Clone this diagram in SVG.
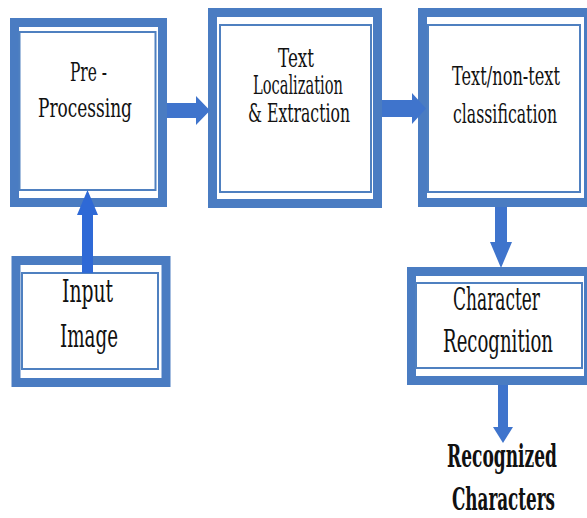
<svg xmlns="http://www.w3.org/2000/svg" width="587" height="518" viewBox="0 0 587 518">
<style>
.outer{fill:#ffffff;stroke:#4a7cc2;stroke-width:9}
.inner{fill:#ffffff;stroke:#4f80c0;stroke-width:2}
.arrow{fill:#3f74cc;stroke:none}
text{font-family:'DejaVu Serif','Liberation Serif',serif;fill:#111111;text-anchor:middle}
.s{font-size:26px}
.b{font-size:32px}
.bold{font-weight:bold}
</style>
<rect width="587" height="518" fill="#ffffff"/>
<g id="preprocessing">
<rect class="outer" x="14.5" y="22.5" width="148" height="180"/>
<rect class="inner" x="19.5" y="32" width="136" height="158"/>
<g transform="translate(88.5,0) scale(0.65,1)"><text class="s" x="0" y="81" textLength="57" lengthAdjust="spacingAndGlyphs">Pre -</text></g>
<g transform="translate(85,0) scale(0.65,1)"><text class="s" x="0" y="117" textLength="144.6" lengthAdjust="spacingAndGlyphs">Processing</text></g>
</g>
<g id="localization">
<rect class="outer" x="212.5" y="12.5" width="165" height="191"/>
<rect class="inner" x="220" y="25" width="151" height="167"/>
<g transform="translate(296,0) scale(0.65,1)"><text class="s" x="0" y="67" textLength="55.4" lengthAdjust="spacingAndGlyphs">Text</text></g>
<g transform="translate(298,0) scale(0.65,1)"><text class="s" x="0" y="94" textLength="138.5" lengthAdjust="spacingAndGlyphs">Localization</text></g>
<g transform="translate(299,0) scale(0.65,1)"><text class="s" x="0" y="122" textLength="156.9" lengthAdjust="spacingAndGlyphs">&amp; Extraction</text></g>
</g>
<g id="classification">
<rect class="outer" x="422.5" y="12.5" width="166" height="190"/>
<rect class="inner" x="428" y="25" width="152" height="167"/>
<g transform="translate(506,0) scale(0.65,1)"><text class="s" x="0" y="85" textLength="166.2" lengthAdjust="spacingAndGlyphs">Text/non-text</text></g>
<g transform="translate(505,0) scale(0.65,1)"><text class="s" x="0" y="123" textLength="160" lengthAdjust="spacingAndGlyphs">classification</text></g>
</g>
<g id="input">
<rect class="outer" x="16" y="260.5" width="150" height="122"/>
<rect class="inner" x="22" y="273" width="136" height="96"/>
<g transform="translate(87.5,0) scale(0.65,1)"><text class="b" x="0" y="302" textLength="78.5" lengthAdjust="spacingAndGlyphs">Input</text></g>
<g transform="translate(89,0) scale(0.65,1)"><text class="b" x="0" y="347" textLength="89.2" lengthAdjust="spacingAndGlyphs">Image</text></g>
</g>
<g id="recognition">
<rect class="outer" x="411.5" y="271.5" width="177" height="109"/>
<rect class="inner" x="416" y="283" width="166" height="85"/>
<g transform="translate(496.5,0) scale(0.65,1)"><text class="b" x="0" y="310" textLength="133.8" lengthAdjust="spacingAndGlyphs">Character</text></g>
<g transform="translate(498,0) scale(0.65,1)"><text class="b" x="0" y="352" textLength="169.2" lengthAdjust="spacingAndGlyphs">Recognition</text></g>
</g>
<g id="output">
<g transform="translate(502,0) scale(0.65,1)"><text class="b bold" x="0" y="467" textLength="169.2" lengthAdjust="spacingAndGlyphs">Recognized</text></g>
<g transform="translate(503.5,0) scale(0.65,1)"><text class="b bold" x="0" y="510" textLength="158.5" lengthAdjust="spacingAndGlyphs">Characters</text></g>
</g>
<g id="connectors">
<polygon class="arrow" points="167,103 196,103 196,96 210,110.5 196,125 196,118 167,118"/>
<polygon class="arrow" points="382,100 412,100 412,93 426,108.5 412,124 412,117 382,117"/>
<polygon class="arrow" style="fill:#2e69d6" points="82,273 82,215 77,215 87.5,190 98,215 93,215 93,273"/>
<polygon class="arrow" points="495,207 507,207 507,242 512,242 501,268 490,242 495,242"/>
<polygon class="arrow" points="498,385 508,385 508,427 513,427 503,443 493,427 498,427"/>
</g>
</svg>
